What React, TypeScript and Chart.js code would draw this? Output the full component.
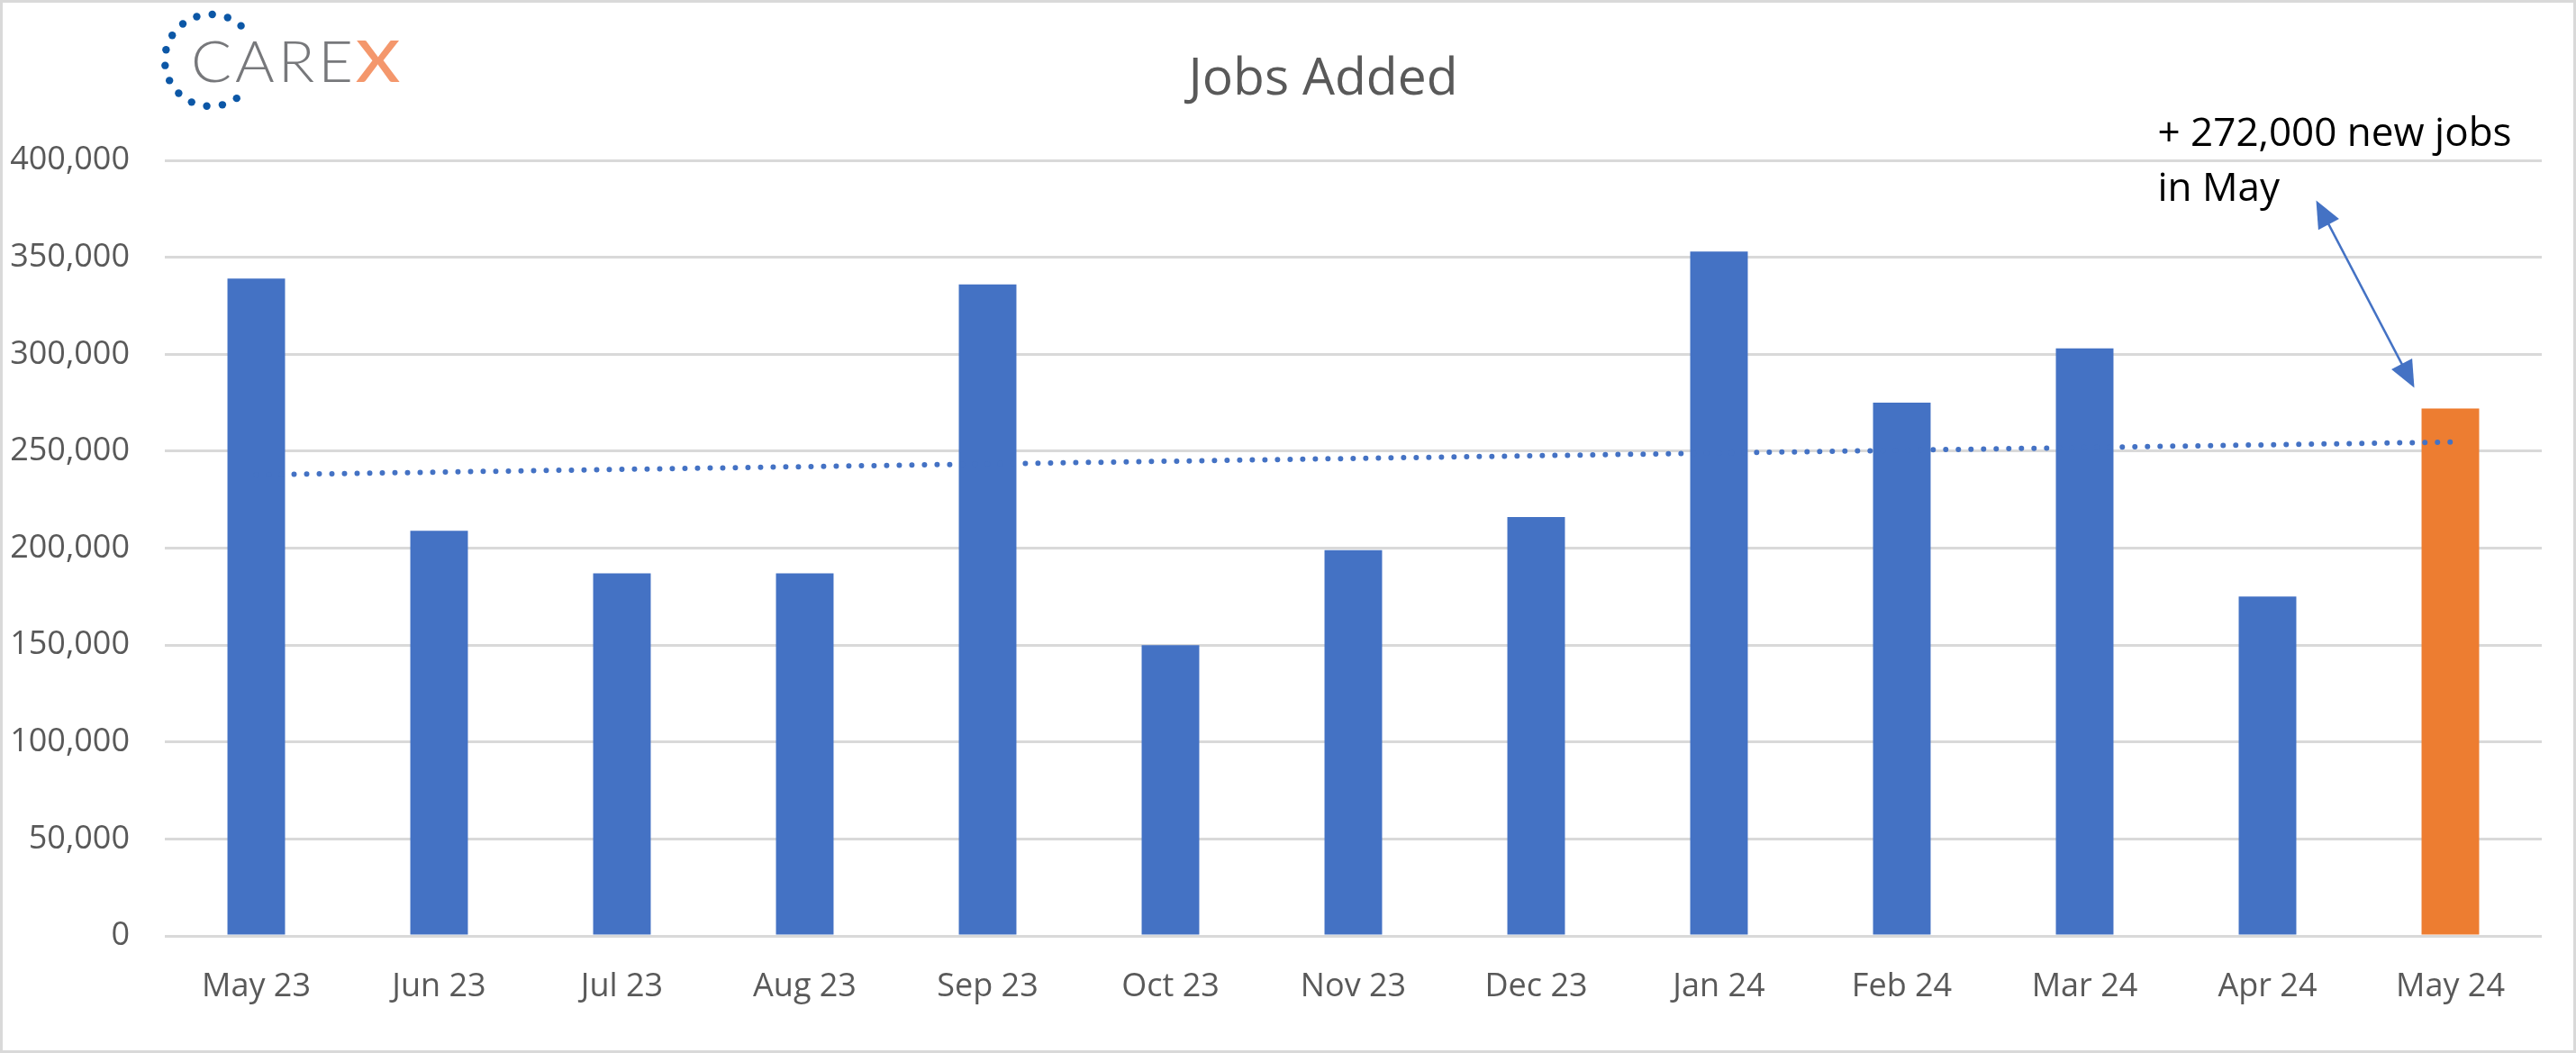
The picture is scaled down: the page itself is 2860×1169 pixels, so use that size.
import React, { useEffect, useRef } from "react";
import { Chart, registerables } from "chart.js";

Chart.register(...registerables);

// ---- data ----
const categories = [
  "May 23", "Jun 23", "Jul 23", "Aug 23", "Sep 23", "Oct 23", "Nov 23",
  "Dec 23", "Jan 24", "Feb 24", "Mar 24", "Apr 24", "May 24",
];
const jobsAdded = [
  339000, 209000, 187000, 187000, 336000, 150000, 199000,
  216000, 353000, 275000, 303000, 175000, 272000,
];
const highlightIndex = 12;
// linear trend line end points
const trendStartValue = 237800;
const trendEndValue = 254700;
const yAxisMin = 0;
const yAxisMax = 400000;
const yAxisStep = 50000;
const chartTitle = "Jobs Added";
const annotationLines = ["+ 272,000 new jobs", "in May"];
const logoMain = "CARE";
const logoAccent = "X";

// ---- styles ----
const BLUE = "#4472C4";
const ORANGE = "#ED7D31";
const GRID = "#D9D9D9";
const TEXT = "#595959";
const FONT = "'Open Sans', 'Noto Sans', sans-serif";

function drawArrowHead(ctx: CanvasRenderingContext2D, tipX: number, tipY: number, fromX: number, fromY: number) {
  const a = Math.atan2(tipY - fromY, tipX - fromX);
  const len = 30;
  const hw = 13;
  const bx = tipX - len * Math.cos(a);
  const by = tipY - len * Math.sin(a);
  ctx.beginPath();
  ctx.moveTo(tipX, tipY);
  ctx.lineTo(bx + hw * Math.sin(a), by - hw * Math.cos(a));
  ctx.lineTo(bx - hw * Math.sin(a), by + hw * Math.cos(a));
  ctx.closePath();
  ctx.fill();
}

const overlayPlugin = {
  id: "overlay",
  beforeDraw(chart: any) {
    const ctx = chart.ctx as CanvasRenderingContext2D;
    ctx.save();
    ctx.fillStyle = "#ffffff";
    ctx.fillRect(0, 0, chart.width, chart.height);
    ctx.restore();
  },
  afterDraw(chart: any) {
    const ctx = chart.ctx as CanvasRenderingContext2D;
    ctx.save();

    // outer border
    ctx.strokeStyle = GRID;
    ctx.lineWidth = 3;
    ctx.strokeRect(1.5, 1.5, chart.width - 3, chart.height - 3);

    // title
    ctx.fillStyle = TEXT;
    ctx.font = `57px ${FONT}`;
    ctx.textAlign = "center";
    ctx.textBaseline = "alphabetic";
    ctx.fillText(chartTitle, 1469, 105);

    // logo: dotted ring
    ctx.fillStyle = "#0C57A6";
    const cx = 234, cy = 67, r = 51;
    const a0 = (55.7 * Math.PI) / 180;
    const a1 = (311.2 * Math.PI) / 180;
    for (let i = 0; i < 14; i++) {
      const a = a0 + ((a1 - a0) * i) / 13;
      ctx.beginPath();
      ctx.arc(cx + r * Math.cos(a), cy + r * Math.sin(a), 4.2, 0, Math.PI * 2);
      ctx.fill();
    }
    // logo text: letters stretched horizontally to fill the logo width
    ctx.textAlign = "left";
    ctx.fillStyle = "#77787B";
    ctx.font = `300 64px Lato, 'Open Sans', sans-serif`;
    const chars = logoMain.split("");
    const widths = chars.map((c) => ctx.measureText(c).width);
    const total = widths.reduce((s, v) => s + v, 0);
    const startX = 212, endX = 392;
    const tracking = 4;
    const sx = (endX - startX - tracking * (chars.length - 1)) / total;
    let px = startX;
    chars.forEach((c, i) => {
      ctx.save();
      ctx.translate(px, 91);
      ctx.scale(sx, 1);
      ctx.fillText(c, 0, 0);
      ctx.restore();
      px += widths[i] * sx + tracking;
    });
    ctx.fillStyle = "#F4976C";
    ctx.font = `600 64px Lato, 'Open Sans', sans-serif`;
    const wx = ctx.measureText(logoAccent).width;
    ctx.save();
    ctx.translate(395, 91);
    ctx.scale(49 / wx, 1);
    ctx.fillText(logoAccent, 0, 0);
    ctx.restore();

    // annotation anchored to highlighted bar
    const xs = chart.scales.x;
    const ys = chart.scales.y;
    const barX = xs.getPixelForValue(highlightIndex);
    const barTop = ys.getPixelForValue(jobsAdded[highlightIndex]);
    ctx.fillStyle = "#000000";
    ctx.font = `44px ${FONT}`;
    ctx.textAlign = "left";
    ctx.fillText(annotationLines[0], barX - 325, barTop - 292);
    ctx.fillText(annotationLines[1], barX - 325, barTop - 231);

    const tx1 = barX - 149, ty1 = barTop - 231;
    const tx2 = barX - 40, ty2 = barTop - 23;
    ctx.strokeStyle = BLUE;
    ctx.fillStyle = BLUE;
    ctx.lineWidth = 2.5;
    ctx.beginPath();
    const ang = Math.atan2(ty2 - ty1, tx2 - tx1);
    ctx.moveTo(tx1 + 25 * Math.cos(ang), ty1 + 25 * Math.sin(ang));
    ctx.lineTo(tx2 - 25 * Math.cos(ang), ty2 - 25 * Math.sin(ang));
    ctx.stroke();
    drawArrowHead(ctx, tx1, ty1, tx2, ty2);
    drawArrowHead(ctx, tx2, ty2, tx1, ty1);

    ctx.restore();
  },
};

export default function App() {
  const canvasRef = useRef<HTMLCanvasElement | null>(null);

  useEffect(() => {
    const canvas = canvasRef.current;
    if (!canvas) return;
    const trendData = categories.map((_, i) =>
      i === 0 ? trendStartValue : i === categories.length - 1 ? trendEndValue : null
    );
    const barColors = categories.map((_, i) => (i === highlightIndex ? ORANGE : BLUE));

    const chart = new Chart(canvas, {
      type: "bar",
      data: {
        labels: categories,
        datasets: [
          {
            type: "line",
            label: "Trend",
            data: trendData as any,
            borderColor: BLUE,
            borderWidth: 6,
            borderDash: [0, 14],
            borderCapStyle: "round",
            pointRadius: 0,
            spanGaps: true,
            fill: false,
            order: 0,
          } as any,
          {
            type: "bar",
            label: "Jobs Added",
            data: jobsAdded,
            backgroundColor: barColors,
            borderWidth: 0,
            barPercentage: 0.315,
            categoryPercentage: 1,
            order: 1,
          },
        ],
      },
      options: {
        responsive: false,
        animation: false,
        devicePixelRatio: 1,
        layout: { padding: { top: 178, right: 38, bottom: 0, left: 0 } },
        plugins: {
          legend: { display: false },
          title: { display: false },
          tooltip: { enabled: false },
        },
        scales: {
          x: {
            grid: { display: false, drawTicks: false },
            border: { display: false },
            ticks: {
              color: TEXT,
              font: { family: FONT, size: 36 },
              padding: 35,
              maxRotation: 0,
              autoSkip: false,
            },
            afterFit: (scale: any) => {
              scale.height = 130;
            },
          },
          y: {
            min: yAxisMin,
            max: yAxisMax,
            grid: { color: GRID, lineWidth: 3, drawTicks: false },
            border: { display: false },
            ticks: {
              stepSize: yAxisStep,
              color: TEXT,
              font: { family: FONT, size: 36 },
              padding: 39,
              callback: (v: any) => Number(v).toLocaleString("en-US"),
            },
            afterFit: (scale: any) => {
              scale.width = 183;
            },
          },
        },
      },
      plugins: [overlayPlugin],
    });
    return () => chart.destroy();
  }, []);

  return (
    <canvas
      ref={canvasRef}
      width={2860}
      height={1169}
      style={{ position: "fixed", left: 0, top: 0, width: 2860, height: 1169, display: "block" }}
    />
  );
}
